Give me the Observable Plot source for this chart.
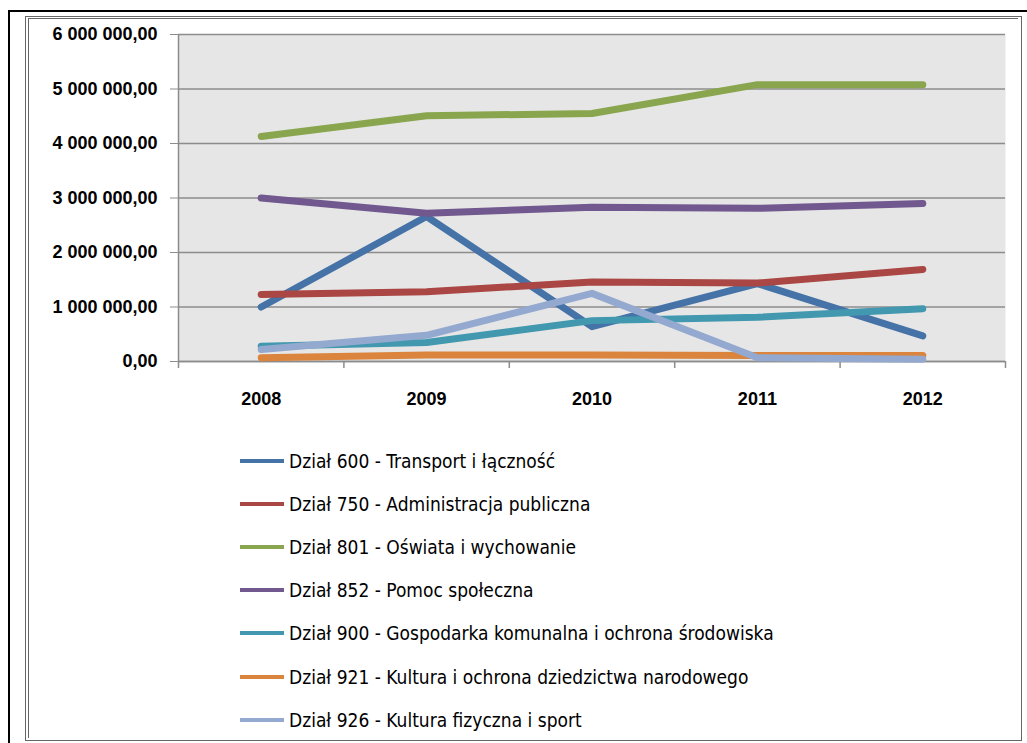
<!DOCTYPE html>
<html><head><meta charset="utf-8">
<script src="https://cdn.jsdelivr.net/npm/d3@7"></script>
<script src="https://cdn.jsdelivr.net/npm/@observablehq/plot@0.6"></script>
<style>
body{margin:0;background:#fff;width:1027px;height:743px;overflow:hidden;position:relative;}
#outer{position:absolute;left:8px;top:10px;width:1040px;height:760px;border:2px solid #000;box-sizing:border-box;}
#inner{position:absolute;left:25px;top:16px;width:997px;height:725px;border:1px solid #666;box-sizing:border-box;}
#inner2{position:absolute;left:28px;top:18px;width:990px;height:720px;border-left:1px solid #666;border-top:1px solid #666;box-sizing:border-box;}
#chart{position:absolute;left:0;top:0;}
#legend{position:absolute;left:240px;top:439px;font-family:"Liberation Sans Narrow","DejaVu Sans Condensed",sans-serif;font-size:19px;color:#000;}
.row{height:43.2px;display:flex;align-items:center;white-space:nowrap;}
.sw{width:44px;height:4px;margin-right:5px;}
</style></head><body>
<div id="outer"></div><div id="inner"></div><div id="inner2"></div>
<div id="chart"></div><div id="legend"></div>
<script>
const years = [2008, 2009, 2010, 2011, 2012];
const seriesNames = [
  "Dział 600 - Transport i łączność",
  "Dział 750 - Administracja publiczna",
  "Dział 801 - Oświata i wychowanie",
  "Dział 852 - Pomoc społeczna",
  "Dział 900 - Gospodarka komunalna i ochrona środowiska",
  "Dział 921 - Kultura i ochrona dziedzictwa narodowego",
  "Dział 926 - Kultura fizyczna i sport"
];
const seriesColors = ["#4572A7", "#AA4643", "#89A54E", "#71588F", "#4198AF", "#DB843D", "#93A9CF"];
const d600 = [1000000, 2660000, 640000, 1430000, 470000];
const d750 = [1230000, 1280000, 1460000, 1440000, 1690000];
const d801 = [4130000, 4510000, 4550000, 5080000, 5080000];
const d852 = [3000000, 2720000, 2830000, 2810000, 2900000];
const d900 = [280000, 350000, 750000, 810000, 970000];
const d921 = [70000, 120000, 120000, 110000, 110000];
const d926 = [220000, 480000, 1250000, 70000, 40000];
const yTicks = [0, 1000000, 2000000, 3000000, 4000000, 5000000, 6000000];

const allValues = [d600, d750, d801, d852, d900, d921, d926];
const data = allValues.flatMap((vals, i) => vals.map((v, j) => ({series: seriesNames[i], year: years[j], value: v})));
const bounds = years.map(y => y - 0.5).concat([years[years.length - 1] + 0.5]);

const fmt = d3.formatLocale({decimal: ",", thousands: " ", grouping: [3], currency: ["", ""]}).format(",.2f");
const font = "'Liberation Sans','DejaVu Sans',sans-serif";
const gridColor = "#8c8c8c";

const chart = Plot.plot({
  width: 1027, height: 416,
  marginLeft: 178, marginRight: 22, marginTop: 34, marginBottom: 55,
  x: {domain: [bounds[0], bounds[bounds.length - 1]], label: null},
  y: {domain: [0, 6000000], label: null},
  color: {domain: seriesNames, range: seriesColors},
  style: {fontFamily: font, fontSize: "18px", fontWeight: "bold", background: "transparent", color: "#000", overflow: "visible"},
  marks: [
    Plot.frame({fill: "#e6e6e6", stroke: null}),
    Plot.gridY(yTicks, {stroke: gridColor, strokeOpacity: 1, strokeWidth: 1.5}),
    Plot.ruleX([bounds[0]], {stroke: gridColor, strokeWidth: 1.5}),
    Plot.ruleY([0], {stroke: gridColor, strokeWidth: 1.5}),
    Plot.ruleX(bounds, {y1: 0, y2: 0, insetBottom: -7, stroke: gridColor, strokeWidth: 1.5}),
    Plot.axisY(yTicks, {tickFormat: fmt, tickSize: 8, tickPadding: 13, stroke: gridColor, fill: "#000", label: null}),
    Plot.axisX(years, {tickFormat: d => String(d), tickSize: 0, tickPadding: 31, fill: "#000", label: null}),
    Plot.line(data, {x: "year", y: "value", z: "series", stroke: "series", strokeWidth: 7, strokeLinecap: "round", strokeLinejoin: "round"})
  ]
});
document.getElementById("chart").appendChild(chart);

const legend = document.getElementById("legend");
seriesNames.forEach((name, i) => {
  const row = document.createElement("div");
  row.className = "row";
  const sw = document.createElement("span");
  sw.className = "sw";
  sw.style.background = seriesColors[i];
  const t = document.createElement("span");
  t.textContent = name;
  row.appendChild(sw); row.appendChild(t);
  legend.appendChild(row);
});
</script>
</body></html>
